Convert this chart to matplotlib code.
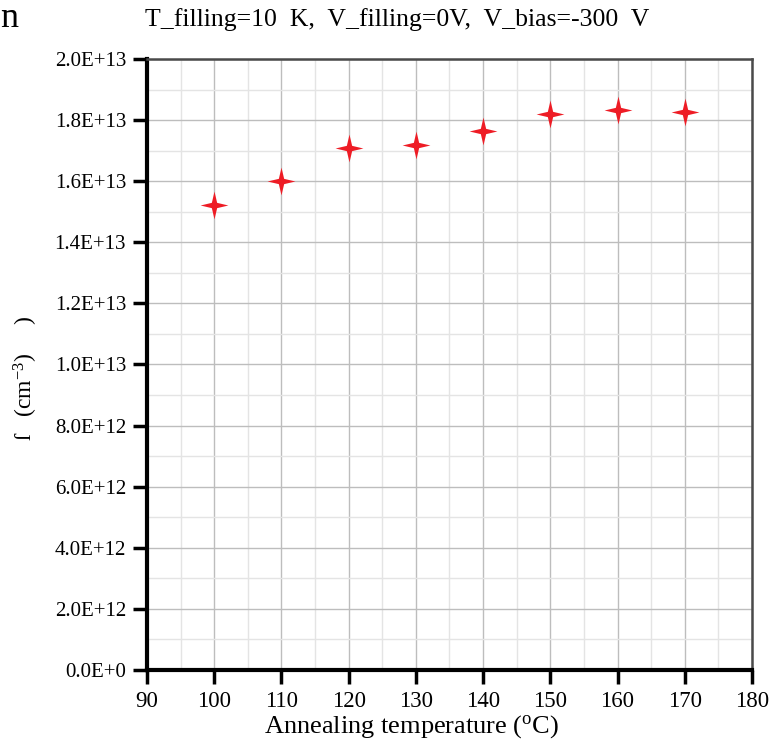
import matplotlib
matplotlib.use("Agg")
import matplotlib.pyplot as plt
from matplotlib.path import Path
from matplotlib.ticker import MultipleLocator, FuncFormatter
import numpy as np

# Annealing temperatures (°C) and measured concentration (cm^-3)
anneal_temp = [100, 110, 120, 130, 140, 150, 160, 170]
concentration = [1.522e13, 1.602e13, 1.710e13, 1.717e13, 1.764e13, 1.821e13, 1.832e13, 1.827e13]

x_ticks = [90, 100, 110, 120, 130, 140, 150, 160, 170, 180]
y_ticks = [0, 2e12, 4e12, 6e12, 8e12, 1e13, 1.2e13, 1.4e13, 1.6e13, 1.8e13, 2e13]

title_text = "T_filling=10  K,  V_filling=0V,  V_bias=-300  V"
x_label = "Annealing temperature ($\\mathregular{^o}$C)"
y_label = "ſ   (cm$\\mathregular{^{-3}}$)     )"

plt.rcParams["font.family"] = ["Liberation Serif", "DejaVu Serif"]
plt.rcParams["mathtext.fontset"] = "custom"
plt.rcParams["mathtext.rm"] = "Liberation Serif"

# four-pointed star marker with concave sides
r_in = 0.27
angles = np.deg2rad(np.arange(0, 360, 45))
verts = []
for i, a in enumerate(angles):
    r = 1.0 if i % 2 == 0 else r_in
    verts.append((r * np.cos(a + np.pi / 2), r * np.sin(a + np.pi / 2)))
verts.append(verts[0])
codes = [Path.MOVETO] + [Path.LINETO] * (len(verts) - 2) + [Path.CLOSEPOLY]
star4 = Path(verts, codes)

fig = plt.figure(figsize=(7.76, 7.41), dpi=100)
ax = fig.add_axes([0.1894, 0.0958, 0.7796, 0.8246])

ax.plot(anneal_temp, concentration, linestyle="none", marker=star4,
        markersize=20, color="#ee1c25", markeredgewidth=0, zorder=5)

ax.set_xlim(90, 180)
ax.set_ylim(0, 2e13)
ax.set_xticks(x_ticks)
ax.set_yticks(y_ticks)
ax.xaxis.set_minor_locator(MultipleLocator(5))
ax.yaxis.set_minor_locator(MultipleLocator(1e12))


def sci_fmt(v, pos):
    if v == 0:
        return "0.0E+0"
    exp = int(np.floor(np.log10(abs(v)) + 1e-9))
    mant = v / 10 ** exp
    return f"{mant:.1f}E+{exp}"


ax.yaxis.set_major_formatter(FuncFormatter(sci_fmt))

ax.grid(which="major", color="#bdbdbd", linewidth=1.0)
ax.grid(which="minor", color="#e4e4e4", linewidth=1.0)
ax.set_axisbelow(True)

ax.tick_params(which="major", direction="out", length=10, width=2.5,
               colors="black")
ax.tick_params(which="minor", length=0)
ax.tick_params(axis="x", labelsize=16.5, pad=5)
ax.tick_params(axis="y", labelsize=15, pad=5)

for side in ["left", "bottom"]:
    ax.spines[side].set_linewidth(3)
    ax.spines[side].set_color("black")
for side in ["top", "right"]:
    ax.spines[side].set_linewidth(1.8)
    ax.spines[side].set_color("#4a4a4a")

ax.set_xlabel(x_label, fontsize=19)
ax.xaxis.set_label_coords(0.438, -0.071)
ax.set_ylabel(y_label, fontsize=17)
ax.yaxis.set_label_coords(-0.177, 0.478)

fig.text(0.512, 0.974, title_text, fontsize=18.5, ha="center", va="center")
fig.text(0.0, 0.975, "n", fontsize=26, ha="left", va="center")

fig.savefig("out.png", dpi=100)
